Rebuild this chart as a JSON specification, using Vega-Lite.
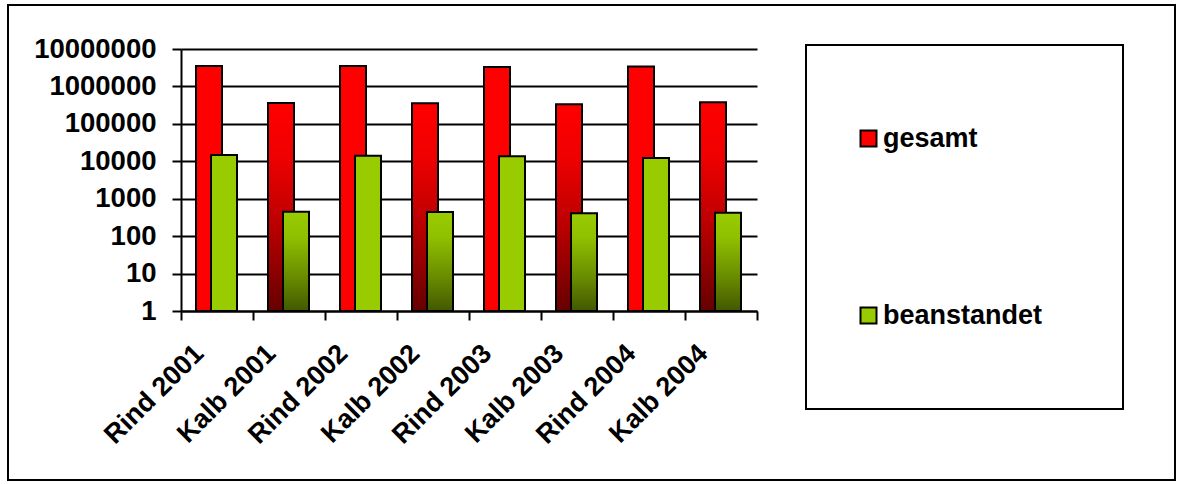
{
  "$schema": "https://vega.github.io/schema/vega-lite/v6.json",
  "width": 1167,
  "height": 475,
  "autosize": "none",
  "padding": {"left": 8, "top": 5, "right": 5, "bottom": 4},
  "background": "white",
  "data": {
    "values": [
      {"cat": "Rind 2001", "animal": "Rind", "series": "gesamt", "value": 3500000},
      {"cat": "Kalb 2001", "animal": "Kalb", "series": "gesamt", "value": 360000},
      {"cat": "Rind 2002", "animal": "Rind", "series": "gesamt", "value": 3500000},
      {"cat": "Kalb 2002", "animal": "Kalb", "series": "gesamt", "value": 355000},
      {"cat": "Rind 2003", "animal": "Rind", "series": "gesamt", "value": 3300000},
      {"cat": "Kalb 2003", "animal": "Kalb", "series": "gesamt", "value": 335000},
      {"cat": "Rind 2004", "animal": "Rind", "series": "gesamt", "value": 3400000},
      {"cat": "Kalb 2004", "animal": "Kalb", "series": "gesamt", "value": 375000},
      {"cat": "Rind 2001", "animal": "Rind", "series": "beanstandet", "value": 14700},
      {"cat": "Kalb 2001", "animal": "Kalb", "series": "beanstandet", "value": 450},
      {"cat": "Rind 2002", "animal": "Rind", "series": "beanstandet", "value": 14000},
      {"cat": "Kalb 2002", "animal": "Kalb", "series": "beanstandet", "value": 440},
      {"cat": "Rind 2003", "animal": "Rind", "series": "beanstandet", "value": 13600},
      {"cat": "Kalb 2003", "animal": "Kalb", "series": "beanstandet", "value": 410},
      {"cat": "Rind 2004", "animal": "Rind", "series": "beanstandet", "value": 12200},
      {"cat": "Kalb 2004", "animal": "Kalb", "series": "beanstandet", "value": 420}
    ]
  },
  "mark": {"type": "bar", "stroke": "black", "strokeWidth": 2, "width": 26},
  "encoding": {
    "x": {
      "field": "cat",
      "type": "nominal",
      "sort": null,
      "scale": {"range": [173, 749], "paddingInner": 0, "paddingOuter": 0},
      "axis": {
        "title": null,
        "orient": "bottom",
        "offset": -169,
        "domainColor": "black",
        "domainWidth": 2,
        "tickColor": "black",
        "tickWidth": 2,
        "tickSize": 9,
        "tickBand": "extent",
        "labelAngle": -45,
        "labelAlign": "right",
        "labelBaseline": "middle",
        "labelFont": "Liberation Sans",
        "labelFontSize": 27,
        "labelFontWeight": "bold",
        "labelColor": "black",
        "labelPadding": 29,
        "labelOffset": -18,
        "labelOverlap": false,
        "labelLimit": 0,
        "grid": false
      }
    },
    "xOffset": {
      "field": "series",
      "type": "nominal",
      "sort": ["gesamt", "beanstandet"],
      "scale": {"domain": ["gesamt", "beanstandet"], "range": [20.5, 50.5], "paddingInner": 0, "paddingOuter": 0}
    },
    "y": {
      "field": "value",
      "type": "quantitative",
      "scale": {"type": "log", "domain": [1, 10000000], "range": [306, 44], "nice": false},
      "axis": {
        "title": null,
        "orient": "left",
        "offset": -173,
        "values": [1, 10, 100, 1000, 10000, 100000, 1000000, 10000000],
        "format": "d",
        "domainColor": "black",
        "domainWidth": 2,
        "tickColor": "black",
        "tickWidth": 2,
        "tickSize": 9,
        "labelFont": "Liberation Sans",
        "labelFontSize": 27.5,
        "labelFontWeight": "bold",
        "labelColor": "black",
        "labelPadding": 16,
        "labelOverlap": false,
        "labelFlush": false,
        "grid": true,
        "gridColor": "black",
        "gridWidth": 2,
        "gridOpacity": 1
      }
    },
    "y2": {"datum": 1},
    "fill": {
      "field": "series",
      "type": "nominal",
      "scale": {"domain": ["gesamt", "beanstandet"], "range": ["#ff0000", "#99cc00"]},
      "condition": [
        {
          "test": "datum.animal === 'Kalb' && datum.series === 'gesamt'",
          "value": {"gradient": "linear", "x1": 0, "y1": 0, "x2": 0, "y2": 1,
            "stops": [{"offset": 0, "color": "#ff0000"}, {"offset": 0.25, "color": "#f00000"}, {"offset": 0.6, "color": "#b80000"}, {"offset": 1, "color": "#660000"}]}
        },
        {
          "test": "datum.animal === 'Kalb' && datum.series === 'beanstandet'",
          "value": {"gradient": "linear", "x1": 0, "y1": 0, "x2": 0, "y2": 1,
            "stops": [{"offset": 0, "color": "#99cc00"}, {"offset": 0.25, "color": "#90c000"}, {"offset": 0.65, "color": "#698d00"}, {"offset": 1, "color": "#435800"}]}
        }
      ],
      "legend": {
        "title": null,
        "orient": "none",
        "legendX": 798,
        "legendY": 40,
        "padding": 80,
        "strokeColor": "black",
        "symbolType": "square",
        "symbolSize": 256,
        "symbolOffset": -31,
        "symbolStrokeColor": "black",
        "symbolStrokeWidth": 2,
        "symbolOpacity": 1,
        "labelFont": "Liberation Sans",
        "labelFontSize": 27,
        "labelFontWeight": "bold",
        "labelColor": "black",
        "labelOffset": 1,
        "rowPadding": 149
      }
    }
  },
  "config": {
    "view": {"stroke": "black", "strokeWidth": 2},
    "legend": {"strokeWidth": 2}
  }
}
